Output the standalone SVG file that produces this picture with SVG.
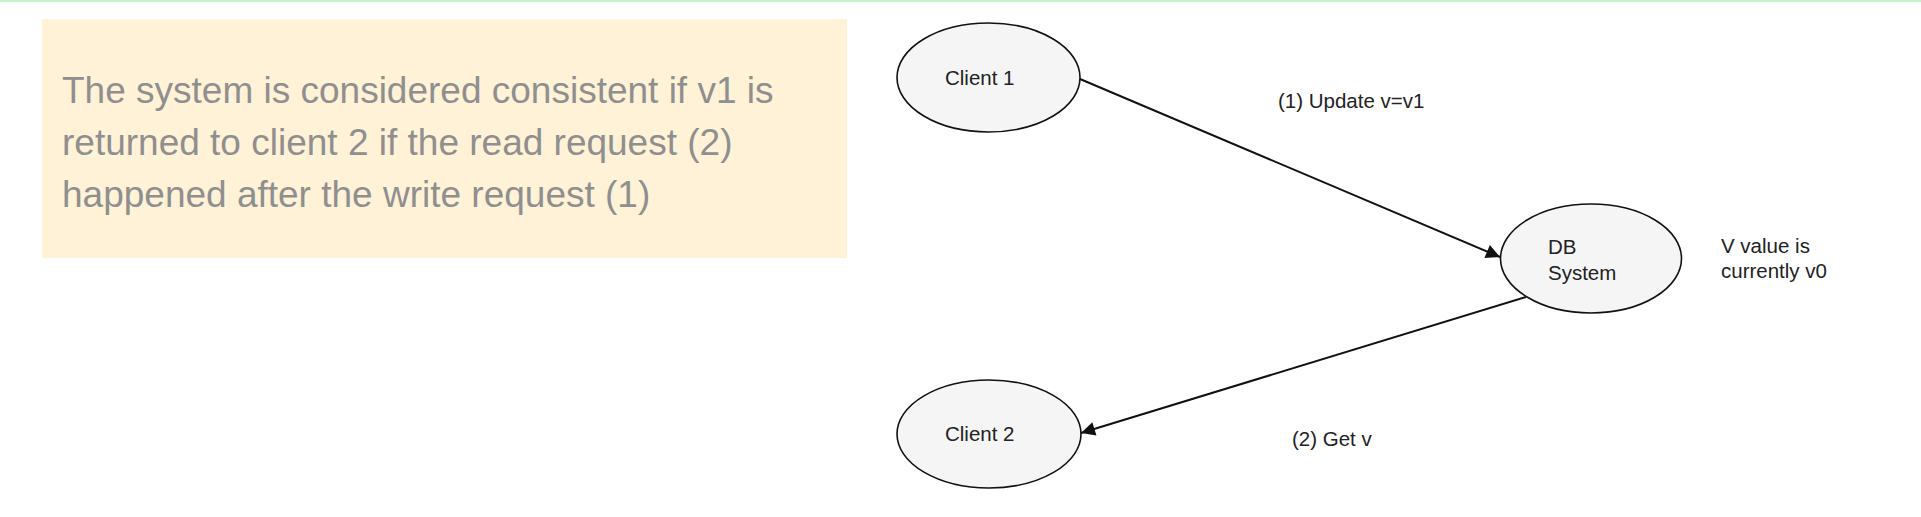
<svg xmlns="http://www.w3.org/2000/svg" width="1921" height="517" viewBox="0 0 1921 517">
<defs>
<style>
.node ellipse{fill:#f5f5f5;stroke:#111;stroke-width:1.6}
.lbl{font-family:"Liberation Sans",Arial,sans-serif;font-size:20.5px;fill:#222}
.note{font-family:"Liberation Sans",Arial,sans-serif;font-size:37px;fill:#8f8f8f}
.edge{stroke:#111;stroke-width:2;fill:none;marker-end:url(#arr)}
</style>
<marker id="arr" viewBox="0 0 10 10" refX="10" refY="5" markerWidth="8.5" markerHeight="7" markerUnits="strokeWidth" orient="auto">
<path d="M0,0 L10,5 L0,10 z" fill="#111"/>
</marker>
</defs>
<rect x="0" y="0" width="1921" height="517" fill="#ffffff"/>
<rect x="0" y="0" width="1921" height="2" fill="#c4f3cc"/>
<g id="note">
<rect x="42" y="19" width="805" height="239" fill="#fff2d6"/>
<text class="note" x="62" y="103">The system is considered consistent if v1 is</text>
<text class="note" x="62" y="155">returned to client 2 if the read request (2)</text>
<text class="note" x="62" y="207">happened after the write request (1)</text>
</g>
<g id="connectors">
<line class="edge" x1="1080" y1="79" x2="1500" y2="257"/>
<line class="edge" x1="1526" y1="297" x2="1081" y2="433"/>
<text class="lbl" x="1278" y="108">(1) Update v=v1</text>
<text class="lbl" x="1292" y="446">(2) Get v</text>
</g>
<g id="client1" class="node">
<ellipse cx="988.5" cy="77.5" rx="91.5" ry="54.5"/>
<text class="lbl" x="945" y="85">Client 1</text>
</g>
<g id="dbsystem" class="node">
<ellipse cx="1591" cy="258.5" rx="90.5" ry="54.5"/>
<text class="lbl" x="1548" y="254">DB</text>
<text class="lbl" x="1548" y="280">System</text>
</g>
<g id="client2" class="node">
<ellipse cx="989" cy="434" rx="92" ry="54"/>
<text class="lbl" x="945" y="441">Client 2</text>
</g>
<g id="vnote">
<text class="lbl" x="1721" y="253">V value is</text>
<text class="lbl" x="1721" y="278">currently v0</text>
</g>
</svg>
